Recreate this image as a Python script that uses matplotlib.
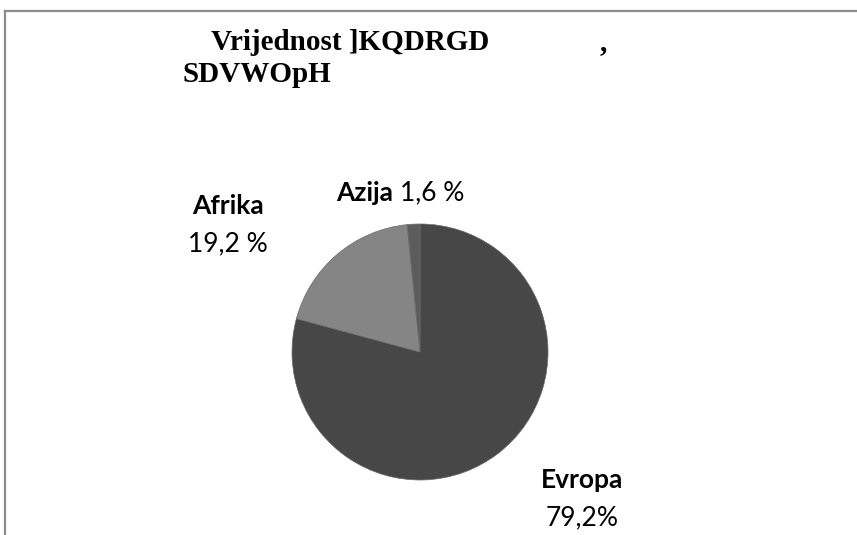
import matplotlib.pyplot as plt

# data
regions = ['Evropa', 'Afrika', 'Azija']
shares = [79.2, 19.2, 1.6]
share_labels = ['79,2%', '19,2 %', '1,6 %']
colors = ['#474747', '#858585', '#5c5c5c']

title_line1 = 'Vrijednost ]KQDRGD'
title_line2 = 'SDVWOpH'

fig = plt.figure(figsize=(8.57, 5.35), dpi=100)
W, H = 857, 535

def px(x, y):
    return x / W, 1 - y / H

# chart frame (gray, open at right and bottom)
fig.add_artist(plt.Line2D([5 / W, 1], [1 - 11 / H, 1 - 11 / H], color='#8c8c8c', lw=1.6))
fig.add_artist(plt.Line2D([5 / W, 5 / W], [0, 1 - 11 / H], color='#8c8c8c', lw=1.6))

# pie axes: center (420, 352), radius 128 px
r = 128
cx, cy = 420, 352
ax = fig.add_axes([(cx - r) / W, 1 - (cy + r) / H, 2 * r / W, 2 * r / H])
ax.pie(shares, colors=colors, startangle=90, counterclock=False,
       wedgeprops=dict(linewidth=0.5, edgecolor='#6a6a6a'))
ax.set_aspect('equal')
ax.set_xlim(-1, 1)
ax.set_ylim(-1, 1)

lab_font = 'Lato'
fs = 19

# Afrika
fig.text(*px(228, 206), regions[1], fontsize=fs, fontweight='bold', family=lab_font,
         ha='center', va='center')
fig.text(*px(228, 244), share_labels[1], fontsize=fs, family=lab_font,
         ha='center', va='center')
# Azija
fig.text(*px(393, 193), regions[2], fontsize=fs, fontweight='bold', family=lab_font,
         ha='right', va='center')
fig.text(*px(400, 193), share_labels[2], fontsize=fs, family=lab_font,
         ha='left', va='center')
# Evropa
fig.text(*px(582, 480), regions[0], fontsize=fs, fontweight='bold', family=lab_font,
         ha='center', va='center')
fig.text(*px(582, 518), share_labels[0], fontsize=fs, family=lab_font,
         ha='center', va='center')

# title (garbled as in the source)
tfont = 'Liberation Serif'
fig.text(*px(211, 43), title_line1, fontsize=21, fontweight='bold', family=tfont,
         ha='left', va='center')
fig.text(*px(603, 43), ',', fontsize=21, fontweight='bold', family=tfont,
         ha='center', va='center')
fig.text(*px(183, 74), title_line2, fontsize=21, fontweight='bold', family=tfont,
         ha='left', va='center')

fig.savefig('out.png', dpi=100)
